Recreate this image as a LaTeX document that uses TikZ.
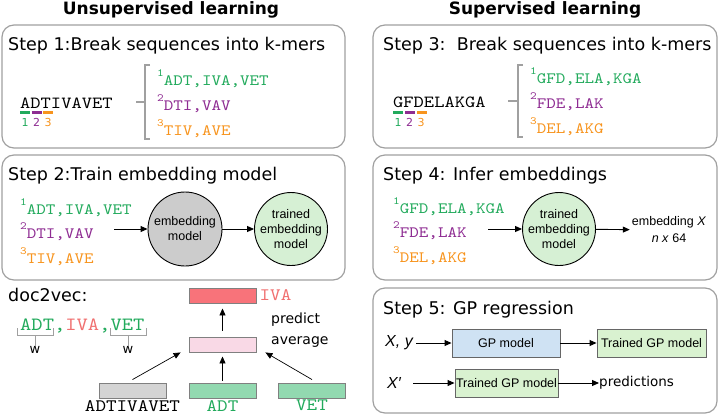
\documentclass[tikz,border=0pt]{standalone}
\usepackage{fontspec}
\setmainfont{DejaVu Sans}
\newfontfamily\arialfont{Liberation Sans}
\newfontfamily\kmerfont{lmmono10-regular.otf}[FakeStretch=1.15]
\usetikzlibrary{arrows.meta,positioning}

\definecolor{kgreen}{RGB}{34,170,92}
\definecolor{kpurple}{RGB}{142,44,146}
\definecolor{korange}{RGB}{247,148,30}
\definecolor{kred}{RGB}{240,112,112}
\definecolor{panelgray}{RGB}{160,160,160}
\definecolor{redfill}{RGB}{248,115,122}
\definecolor{pinkfill}{RGB}{249,217,230}
\definecolor{grayfill}{RGB}{212,212,212}
\definecolor{mintfill}{RGB}{146,217,176}
\definecolor{blobgray}{RGB}{204,204,204}
\definecolor{blobgreen}{RGB}{214,240,212}
\definecolor{gpblue}{RGB}{207,226,243}
\definecolor{gpgreen}{RGB}{217,242,208}

\newcommand{\kline}[3]{\textcolor{#1}{\raisebox{9pt}{\kmerfont\fontsize{11}{11}\selectfont #2}\kmerfont\fontsize{15.8}{15.8}\selectfont #3}}

\tikzset{
  panel/.style={draw=panelgray, line width=1.2pt, rounded corners=12pt},
  steptitle/.style={anchor=base west, inner sep=0pt, font=\fontsize{17.5}{17.5}\selectfont},
  headline/.style={anchor=base, inner sep=0pt, font=\bfseries\fontsize{17}{17}\selectfont},
  kmer/.style={anchor=base west, inner sep=0pt},
  seq/.style={anchor=base west, inner sep=0pt, font=\kmerfont\fontsize{17}{17}\selectfont},
  arr/.style={-{Triangle[length=7pt,width=6pt]}, line width=0.9pt},
  blob/.style={circle, draw, line width=0.9pt, inner sep=0pt, align=center, font=\arialfont\fontsize{12.5}{15}\selectfont},
  vec/.style={draw=gray, line width=0.9pt, minimum width=67pt, minimum height=15pt, inner sep=0pt},
  veclbl/.style={inner sep=0pt, font=\kmerfont\fontsize{17.5}{17.5}\selectfont},
  gpbox/.style={draw=gray!80!black, line width=0.9pt, minimum height=28pt, inner sep=0pt, font=\arialfont\fontsize{12.5}{12.5}\selectfont},
}

\begin{document}
\begin{tikzpicture}[x=1pt,y=-1pt]
  \useasboundingbox (0,0) rectangle (719,415);
  \node[headline] (hu) at (171,14) {Unsupervised learning};
  \node[headline] (hs) at (545,14) {Supervised learning};

  \draw[panel] (2,25) rectangle (345,148);
  \draw[panel] (2,155) rectangle (345,280);
  \draw[panel] (373,25) rectangle (717,148);
  \draw[panel] (373,155) rectangle (717,280);
  \draw[panel] (373,288) rectangle (717,413);

  % step 1
  \node[steptitle] (t1) at (8,50) {Step 1:Break sequences into k-mers};
  \node[seq] (s1) at (20,108) {ADTIVAVET};
  \foreach \c/\n [count=\i] in {kgreen/1,kpurple/2,korange/3}{
    \draw[\c, line width=3pt] ({20+11.5*(\i-1)},112) -- ++(10,0);
    \node[\c, inner sep=0pt, font=\fontsize{11}{11}\selectfont] at ({25+11.5*(\i-1)},122) {\n};
  }
  \draw[panelgray, line width=1.2pt] (150,65) -- (145,65) -- (145,139) -- (150,139) (145,102) -- (136,102);
  \node[kmer] (a1) at (157,85) {\kline{kgreen}{1}{ADT,IVA,VET}};
  \node[kmer] (a2) at (157,110) {\kline{kpurple}{2}{DTI,VAV}};
  \node[kmer] (a3) at (157,135) {\kline{korange}{3}{TIV,AVE}};

  % step 2
  \node[steptitle] (t2) at (8,180) {Step 2:Train embedding model};
  \node[kmer] (b1) at (20,214) {\kline{kgreen}{1}{ADT,IVA,VET}};
  \node[kmer] (b2) at (20,238) {\kline{kpurple}{2}{DTI,VAV}};
  \node[kmer] (b3) at (20,263) {\kline{korange}{3}{TIV,AVE}};
  \node[blob, fill=blobgray, minimum size=74pt] (emb) at (185,229) {embedding\\model};
  \node[blob, fill=blobgreen, minimum size=69pt] (trn) at (291,229) {trained\\embedding\\model};
  \coordinate (k2) at (114,229);
  \draw[arr] (k2) -- (emb);
  \draw[arr] (emb) -- (trn);

  % doc2vec
  \node[steptitle] (t0) at (8,301) {doc2vec:};
  \node[anchor=base west, inner sep=0pt, font=\kmerfont\fontsize{18.7}{18.7}\selectfont] (ctx) at (20,330)
    {\textcolor{kgreen}{ADT,}\textcolor{kred}{IVA}\textcolor{kgreen}{,VET}};
  \node[inner sep=0pt, font=\fontsize{13}{13}\selectfont] (wl) at (35,350) {w};
  \node[inner sep=0pt, font=\fontsize{13}{13}\selectfont] (wr) at (128,350) {w};
  \draw[panelgray, line width=0.9pt] (17,328) -- (17,335) -- (53,335) -- (53,328) (35,335) -- (wl.north);
  \draw[panelgray, line width=0.9pt] (110,328) -- (110,335) -- (146,335) -- (146,328) (128,335) -- (wr.north);
  \node[vec, fill=redfill] (out) at (222.5,295.5) {};
  \node[veclbl, kred, anchor=west] (outl) at ([xshift=3pt]out.east) {IVA};
  \node[vec, fill=pinkfill] (avg) at (222.5,344.5) {};
  \node[vec, fill=grayfill] (doc) at (132.5,390.5) {};
  \node[vec, fill=mintfill] (w1) at (222.5,390.5) {};
  \node[vec, fill=mintfill] (w2) at (312,390.5) {};
  \node[veclbl, below=1.5pt of doc] (docl) {ADTIVAVET};
  \node[veclbl, kgreen, below=1.5pt of w1] (w1l) {ADT};
  \node[veclbl, kgreen, below=1.5pt of w2] (w2l) {VET};
  \node[anchor=west, inner sep=0pt, font=\fontsize{14}{14}\selectfont] (pr) at (271,320) {predict};
  \node[anchor=west, inner sep=0pt, font=\fontsize{14}{14}\selectfont] (av) at (271,342) {average};
  \draw[arr, shorten <=6pt, shorten >=5pt] (avg) -- (out);
  \draw[arr, line width=0.7pt] ([yshift=3pt]doc.north) -- ([xshift=-8pt]avg.south west);
  \draw[arr] ([yshift=2pt]w1.north) -- ([yshift=-4pt]avg.south);
  \draw[arr, line width=0.7pt] ([yshift=3pt]w2.north) -- ([xshift=9pt]avg.south east);

  % step 3
  \node[steptitle] (t3) at (383,50) {Step 3:\ \ Break sequences into k-mers};
  \node[seq] (s3) at (393,107) {GFDELAKGA};
  \foreach \c/\n [count=\i] in {kgreen/1,kpurple/2,korange/3}{
    \draw[\c, line width=3pt] ({393+12*(\i-1)},112) -- ++(10,0);
    \node[\c, inner sep=0pt, font=\fontsize{11}{11}\selectfont] at ({398+11.5*(\i-1)},122) {\n};
  }
  \draw[panelgray, line width=1.2pt] (523,65) -- (518,65) -- (518,137) -- (523,137) (518,101) -- (508,101);
  \node[kmer] (c1) at (530,83) {\kline{kgreen}{1}{GFD,ELA,KGA}};
  \node[kmer] (c2) at (530,108) {\kline{kpurple}{2}{FDE,LAK}};
  \node[kmer] (c3) at (530,133) {\kline{korange}{3}{DEL,AKG}};

  % step 4
  \node[steptitle] (t4) at (383,180) {Step 4: Infer embeddings};
  \node[kmer] (d1) at (393,213) {\kline{kgreen}{1}{GFD,ELA,KGA}};
  \node[kmer] (d2) at (393,237) {\kline{kpurple}{2}{FDE,LAK}};
  \node[kmer] (d3) at (393,262) {\kline{korange}{3}{DEL,AKG}};
  \node[blob, fill=blobgreen, minimum size=72pt] (inf) at (559,229) {trained\\embedding\\model};
  \node[align=center, inner sep=2pt, font=\arialfont\fontsize{12.5}{17}\selectfont] (emx) at (669,230) {embedding \textit{X}\\\textit{n x} 64};
  \coordinate (k4) at (488,229);
  \draw[arr] (k4) -- (inf);
  \draw[arr] (inf) -- (emx);

  % step 5
  \node[steptitle] (t5) at (383,314) {Step 5: GP regression};
  \node[font=\arialfont\itshape\fontsize{16}{16}\selectfont] (xy) at (399,343) {X, y};
  \node[gpbox, fill=gpblue, minimum width=108pt] (gp) at (506,343) {GP model};
  \node[gpbox, fill=gpgreen, minimum width=109pt] (gpt) at (651.5,343) {Trained GP model};
  \node[font=\arialfont\itshape\fontsize{16}{16}\selectfont] (xp) at (394,383) {X′};
  \node[gpbox, fill=gpgreen, minimum width=103pt] (gpt2) at (506.5,383) {Trained GP model};
  \node[anchor=west, inner sep=0pt, font=\fontsize{13.5}{13.5}\selectfont] (pred) at (599,383) {predictions};
  \draw[arr] (xy) -- (gp);
  \draw[arr] (gp) -- (gpt);
  \draw[arr, shorten <=9pt] (xp) -- (gpt2);
  \draw[arr] (gpt2) -- (pred);
\end{tikzpicture}
\end{document}
